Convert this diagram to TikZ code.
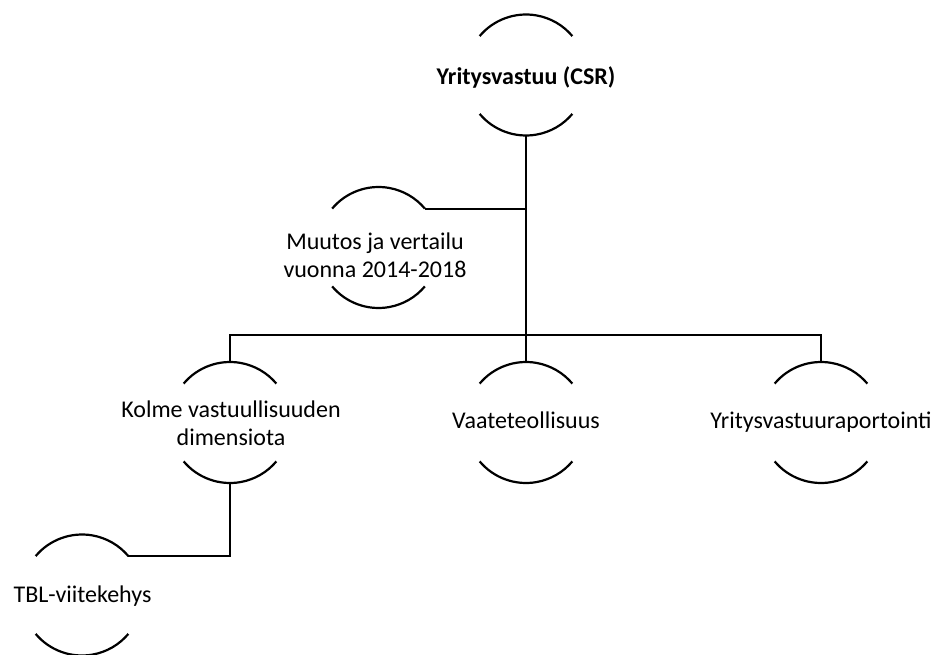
\documentclass[tikz,border=0pt]{standalone}
\usepackage{fontspec}
\setmainfont{Carlito}
\begin{document}
\begin{tikzpicture}[x=1pt,y=-1pt,
  ring/.style={circle,draw=none,minimum size=121pt,inner sep=0pt,outer sep=0pt},
  lbl/.style={align=center,font=\fontsize{24}{28}\selectfont,inner sep=0pt},
  conn/.style={line width=2.2pt},
  arcs/.style={line width=2.2pt}]
\useasboundingbox (0,0) rectangle (937,655);
% rings
\node[ring] (topc) at (526,75) {};
\node[ring] (muutosc) at (378.5,247.5) {};
\node[ring] (kolmec) at (230,422.5) {};
\node[ring] (vaatec) at (526,422.5) {};
\node[ring] (yritc) at (821,422.5) {};
\node[ring] (tblc) at (82,595) {};
% arcs
\foreach \n in {topc,muutosc,kolmec,vaatec,yritc,tblc}{
  \draw[arcs] (\n.140) arc[start angle=-140,end angle=-40,radius=60.5];
  \draw[arcs] (\n.220) arc[start angle=140,end angle=40,radius=60.5];
}
% labels
\node[lbl,font=\fontsize{24}{28}\selectfont\bfseries,anchor=base] (top) at (526,85) {Yritysvastuu (CSR)};
\node[lbl] (muutos) at (375,255) {Muutos ja vertailu\\vuonna 2014-2018};
\node[lbl] (kolme) at (231,423) {Kolme vastuullisuuden\\dimensiota};
\node[lbl,anchor=base] (vaate) at (526,428) {Vaateteollisuus};
\node[lbl,anchor=base] (yrit) at (821,428) {Yritysvastuuraportointi};
\node[lbl,anchor=base] (tbl) at (82.5,602) {TBL-viitekehys};
% connectors
\draw[conn] (topc.south) -- (vaatec.north);
\draw[conn] (muutosc.40) -- (muutosc.40 -| topc.south);
\draw[conn] (kolmec.north) -- ++(0,-27) -| (yritc.north);
\draw[conn] (kolmec.south) |- (tblc.40);
\end{tikzpicture}
\end{document}
